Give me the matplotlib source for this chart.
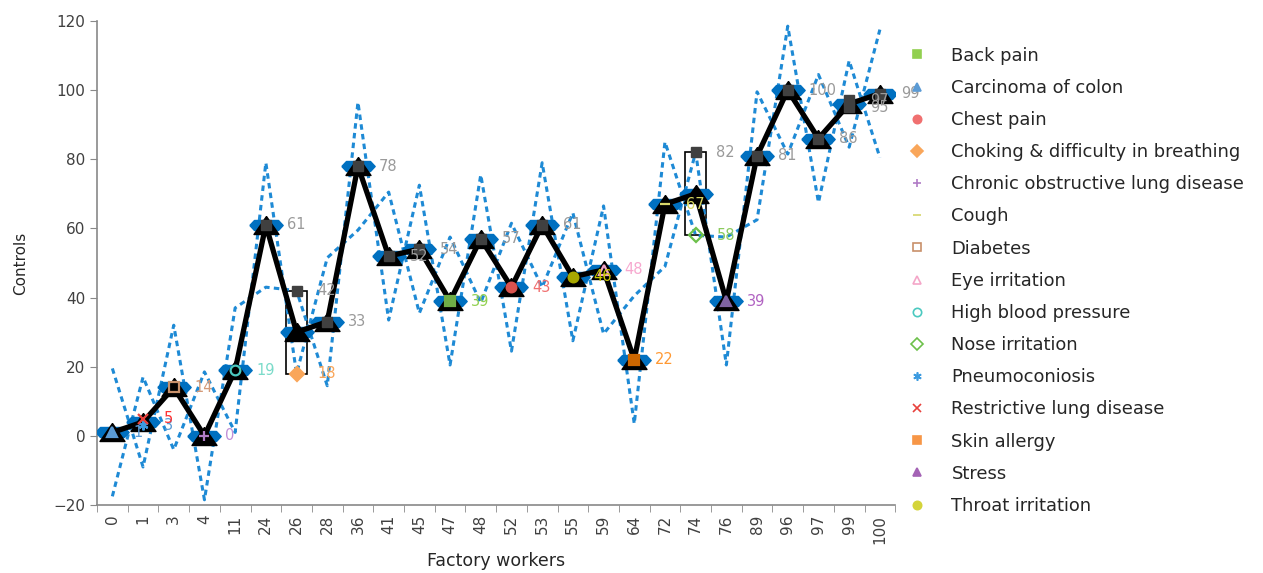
import matplotlib

matplotlib.use("Agg")

import matplotlib.pyplot as plt
import numpy as np

plt.rcParams["font.family"] = ["DejaVu Sans"]

categories = ["0", "1", "3", "4", "11", "24", "26", "28", "36", "41", "45", "47", "48",
              "52", "53", "55", "59", "64", "72", "74", "76", "89", "96", "97", "99", "100"]
controls = [1, 4, 14, 0, 19, 61, 30, 33, 78, 52, 54, 39, 57,
            43, 61, 46, 48, 22, 67, 70, 39, 81, 100, 86, 96, 99]
spread = [18.5, 13, 18, 18.5, 18, 18, 12, 18.5, 18.5, 18.5, 18.5, 18.5, 18.5,
          18.5, 18, 18.5, 18.5, 18.5, 18, 12, 18.5, 18.5, 18.5, 18.5, 12.5, 18.5]

symptom_names = ["Back pain", "Carcinoma of colon", "Chest pain",
                 "Choking & difficulty in breathing", "Chronic obstructive lung disease",
                 "Cough", "Diabetes", "Eye irritation", "High blood pressure",
                 "Nose irritation", "Pneumoconiosis", "Restrictive lung disease",
                 "Skin allergy", "Stress", "Throat irritation"]
symptom_cats = ["47", "0", "52", "26", "4", "72", "3", "59", "11", "74", "1", "1", "64", "76", "55"]
symptom_vals = [39, 1, 43, 18, 0, 67, 14, 48, 19, 58, 3, 5, 22, 39, 46]

other_cats = ["24", "26", "28", "36", "41", "45", "48", "53", "74", "89", "96", "97", "99", "99", "100"]
other_vals = [61, 42, 33, 78, 52, 54, 57, 61, 82, 81, 100, 86, 97, 95, 99]

box_cats = ["26", "74"]
box_low = [18, 58]
box_high = [42, 82]

ast = (6, 2, 0)
# marker, face, edge, label colour
styles = [
    ("s", "#70AD47", "#70AD47", "#92D050"),
    ("^", "#5B9BD5", "#5B9BD5", "#5B9BD5"),
    ("o", "#D9534F", "#D9534F", "#F07070"),
    ("D", "#F9A65A", "#F9A65A", "#F9A65A"),
    ("+", "#B07CC6", "#B07CC6", "#C08FD8"),
    ("_", "#D6D66A", "#D6D66A", "#D8D860"),
    ("s", "none", "#C8906A", "#D49A78"),
    ("^", "none", "#F4A6C8", "#F7A8CF"),
    ("o", "none", "#4BC9C0", "#7ADBC9"),
    ("D", "none", "#6CC04A", "#8CCB5E"),
    (ast, "#3C9BE0", "#3C9BE0", "#5B9BD5"),
    ("x", "#E8413C", "#E8413C", "#FF3333"),
    ("s", "#CC6600", "#CC6600", "#FF9933"),
    ("^", "#8064A2", "#8064A2", "#B163C2"),
    ("o", "#A8A800", "#A8A800", "#C8C800"),
]
legend_styles = [
    ("s", "#92D050", "#92D050"), ("^", "#5B9BD5", "#5B9BD5"), ("o", "#F07070", "#F07070"),
    ("D", "#F9A65A", "#F9A65A"), ("+", "#B07CC6", "#B07CC6"), ("_", "#D6D66A", "#D6D66A"),
    ("s", "none", "#C8906A"), ("^", "none", "#F4A6C8"), ("o", "none", "#4BC9C0"),
    ("D", "none", "#6CC04A"), (ast, "#3C9BE0", "#3C9BE0"), ("x", "#E8413C", "#E8413C"),
    ("s", "#F79646", "#F79646"), ("^", "#A463B5", "#A463B5"), ("o", "#D4D43A", "#D4D43A"),
]

pos = {c: i for i, c in enumerate(categories)}
x = np.arange(len(categories))
ctrl = np.array(controls, dtype=float)
half = np.array(spread)
sign = np.where(x % 2 == 0, 1.0, -1.0)

fig = plt.figure(figsize=(12.63, 5.73), dpi=100)
ax = fig.add_axes([0.0768, 0.1187, 0.632, 0.8447])

# up/down boxes
bx = [pos[c] for c in box_cats]
ax.bar(bx, np.array(box_high) - np.array(box_low), bottom=box_low, width=0.7,
       facecolor="none", edgecolor="black", linewidth=1.2, zorder=1)

dash = dict(color="#1E8AD5", linewidth=2.2, linestyle=(0, (1.8, 1.4)), zorder=2)
ax.plot(x, ctrl + sign * half, **dash)
ax.plot(x, ctrl - sign * half, **dash)

blue_shape = [(-1, 0), (-0.72, 0.3), (0.72, 0.3), (1, 0), (0.72, -0.3), (-0.72, -0.3), (-1, 0)]
ax.plot(x, ctrl, linestyle="none", marker=blue_shape, markersize=24,
        markerfacecolor="#0070C0", markeredgecolor="#0070C0", zorder=3)

tri = [(0, 0.72), (-1, -0.72), (1, -0.72), (0, 0.72)]
ax.plot(x, ctrl, color="black", linewidth=3.8, marker=tri, markersize=18,
        markerfacecolor="black", markeredgecolor="black", zorder=4)

ox = [pos[c] for c in other_cats]
ax.plot(ox, other_vals, linestyle="none", marker="s", markersize=6.5,
        color="#404040", zorder=5)
for xi, v in zip(ox, other_vals):
    ax.annotate(str(v), (xi, v), xytext=(15, 0), textcoords="offset points",
                va="center", ha="left", fontsize=10.5, color="#9A9A9A", zorder=6)

for name, c, v, st in zip(symptom_names, symptom_cats, symptom_vals, styles):
    m, fc, ec, lc = st
    xi = pos[c]
    ax.plot([xi], [v], linestyle="none", marker=m, markersize=7,
            markerfacecolor=fc, markeredgecolor=ec, markeredgewidth=1.6, zorder=5)
    ax.annotate(str(v), (xi, v), xytext=(15, 0), textcoords="offset points",
                va="center", ha="left", fontsize=10.5, color=lc, zorder=6)

handles = []
for name, st in zip(symptom_names, legend_styles):
    m, fc, ec = st
    handles.append(plt.Line2D([], [], linestyle="none", marker=m, markersize=6,
                              markerfacecolor=fc, markeredgecolor=ec, markeredgewidth=1.2,
                              label=name))
leg = fig.legend(handles=handles, loc="upper left", bbox_to_anchor=(0.719, 0.9185),
                 frameon=False, fontsize=12.9, labelspacing=0.79, handlelength=1.0,
                 handletextpad=1.42, borderaxespad=0, borderpad=0)
for t in leg.get_texts():
    t.set_color("#262626")

ax.set_xlim(-0.5, len(categories) - 0.5)
ax.set_ylim(-20, 120)
ax.set_yticks(range(-20, 121, 20))
ax.set_xticks(x)
ax.set_xticklabels(categories, rotation=90)
ax.set_xticks(np.arange(len(categories) + 1) - 0.5, minor=True)
ax.tick_params(axis="x", which="major", length=0, labelsize=11, colors="#404040", pad=7)
ax.tick_params(axis="x", which="minor", length=5, color="#898989")
ax.tick_params(axis="y", length=5, color="#898989", labelsize=11, labelcolor="#404040")
for s in ("top", "right"):
    ax.spines[s].set_visible(False)
for s in ("left", "bottom"):
    ax.spines[s].set_color("#898989")
    ax.spines[s].set_linewidth(1.2)

ax.set_xlabel("Factory workers", fontsize=12.5, color="#262626", labelpad=6)
ax.set_ylabel("Controls", fontsize=11, color="#262626", labelpad=18)

fig.savefig("out.png", dpi=100, facecolor="white")
